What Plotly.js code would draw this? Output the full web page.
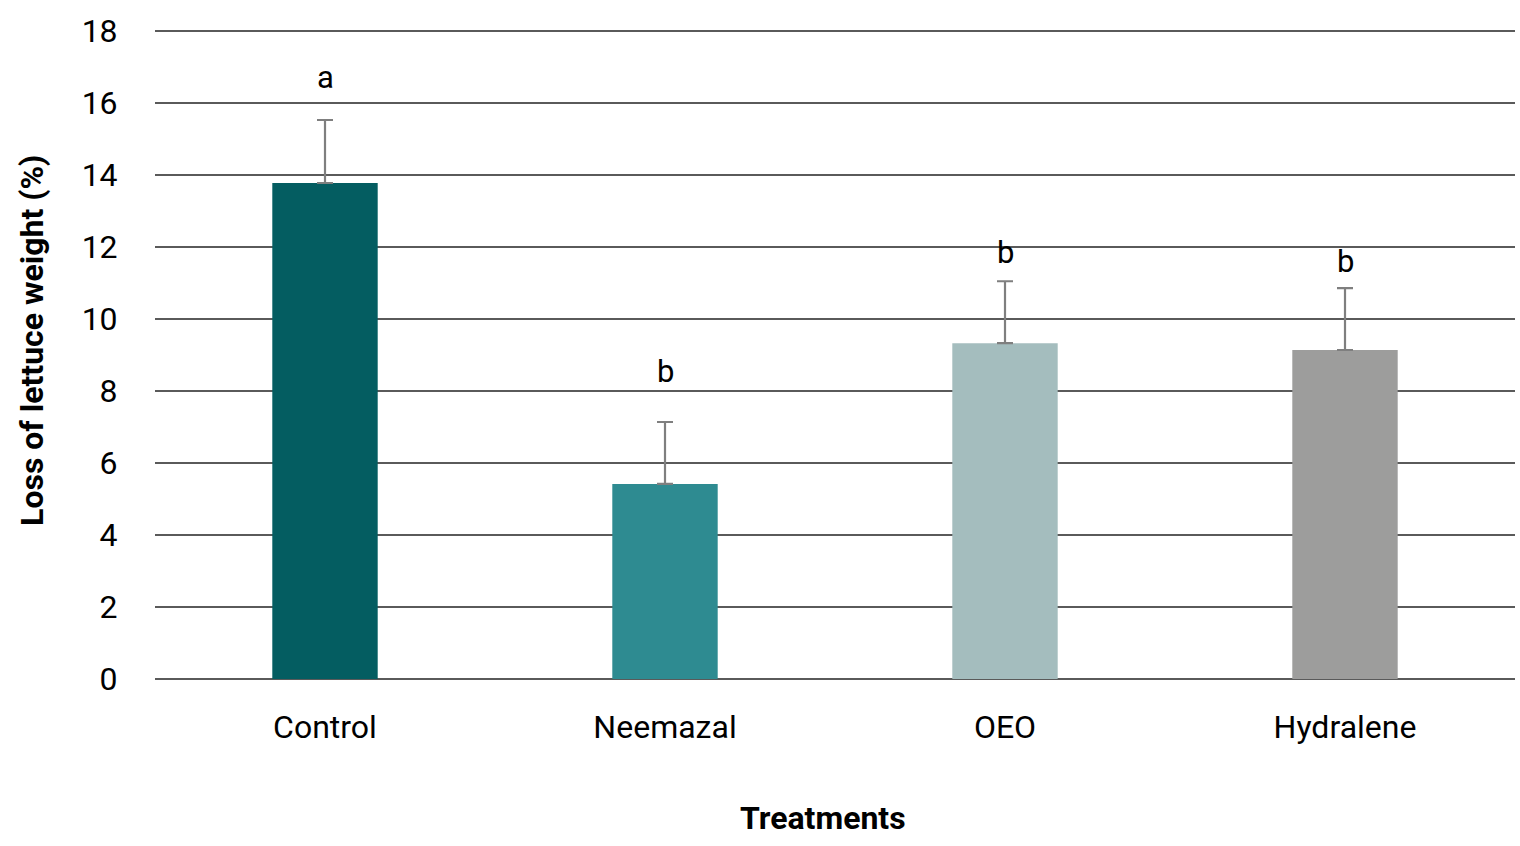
<!DOCTYPE html>
<html>
<head>
<meta charset="utf-8">
<script src="https://cdn.plot.ly/plotly-3.0.1.min.js"></script>
<style>html,body{margin:0;padding:0;background:#fff;}#chart{width:1520px;height:846px;}</style>
</head>
<body>
<div id="chart"></div>
<script>
const categories = ["Control", "Neemazal", "OEO", "Hydralene"];
const values = [13.78, 5.42, 9.33, 9.14];
const errors = [1.75, 1.72, 1.72, 1.72];
const letters = ["a", "b", "b", "b"];
const letterY = [16.72, 8.55, 11.85, 11.6];
const colors = ["#045d61", "#2e8b91", "#a4bdbe", "#9d9d9c"];
const yTicks = [0, 2, 4, 6, 8, 10, 12, 14, 16, 18];
const xTitle = "Treatments";
const yTitle = "Loss of lettuce weight (%)";

const trace = {
  type: "bar",
  x: categories,
  y: values,
  marker: {color: colors},
  error_y: {type: "data", array: errors, symmetric: false, arrayminus: errors.map(() => 0), color: "#7f7f7f", thickness: 2.2, width: 8},
  hoverinfo: "none"
};

const annotations = categories.map((c, i) => ({
  x: c, y: letterY[i], text: letters[i], showarrow: false,
  font: {family: "Roboto, sans-serif", size: 31, color: "#000"}
}));
annotations.push({
  xref: "paper", yref: "paper", x: 0.491, y: -0.214, text: "<b>" + xTitle + "</b>",
  showarrow: false, xanchor: "center", yanchor: "middle",
  font: {family: "Roboto, sans-serif", size: 32, color: "#000"}
});
annotations.push({
  xref: "paper", yref: "paper", x: -0.0904, y: 0.521, text: "<b>" + yTitle + "</b>",
  showarrow: false, xanchor: "center", yanchor: "middle", textangle: -90,
  font: {family: "Roboto, sans-serif", size: 32, color: "#000"}
});

const layout = {
  width: 1520, height: 846,
  margin: {l: 155, r: 5, t: 30, b: 167},
  paper_bgcolor: "#fff", plot_bgcolor: "#fff",
  bargap: 0.69,
  showlegend: false,
  font: {family: "Roboto, sans-serif", color: "#000"},
  xaxis: {
    type: "category",
    tickfont: {size: 32, color: "#000"},
    ticks: "outside", ticklen: 20, tickcolor: "rgba(0,0,0,0)",
    showline: false, showgrid: false
  },
  yaxis: {
    range: [0, 18.03],
    tickvals: yTicks,
    tickfont: {size: 32, color: "#000"},
    ticks: "outside", ticklen: 30, tickcolor: "rgba(0,0,0,0)",
    showgrid: true, gridcolor: "#5a5a5a", gridwidth: 1.6,
    zeroline: true, zerolinecolor: "#5a5a5a", zerolinewidth: 1.6,
    showline: false
  },
  annotations: annotations
};

Plotly.newPlot("chart", [trace], layout, {displayModeBar: false, staticPlot: true});
</script>
</body>
</html>
